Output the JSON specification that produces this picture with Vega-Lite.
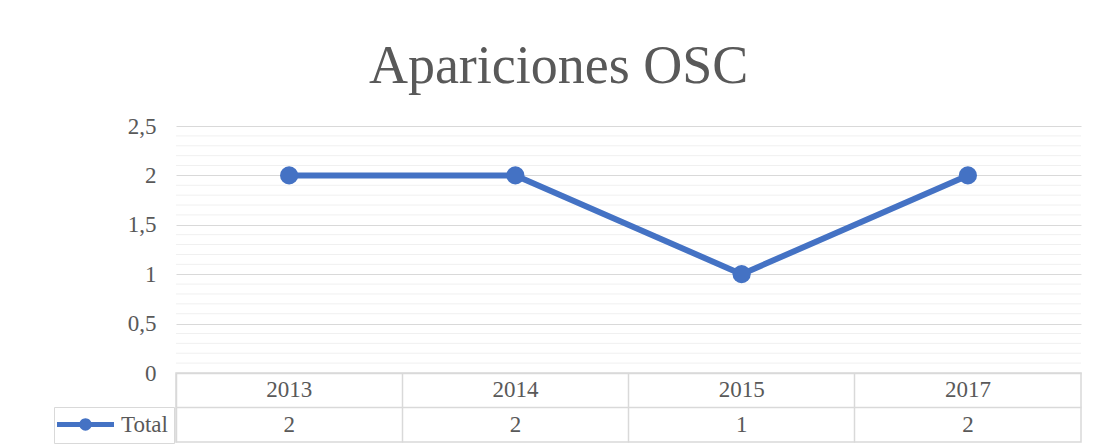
{
  "$schema": "https://vega.github.io/schema/vega-lite/v6.json",
  "padding": {"left": 53, "top": 40, "right": 14, "bottom": 6},
  "background": "white",
  "title": {"text": "Apariciones OSC", "font": "Liberation Serif", "fontSize": 54, "fontWeight": "normal", "color": "#595959", "anchor": "middle", "offset": 21, "dx": -9},
  "data": {"values": [
    {"year": "2013", "series": "Total", "value": 2},
    {"year": "2014", "series": "Total", "value": 2},
    {"year": "2015", "series": "Total", "value": 1},
    {"year": "2017", "series": "Total", "value": 2}
  ]},
  "spacing": 0,
  "bounds": "flush",
  "vconcat": [
    {
      "width": 905,
      "height": 247,
      "view": {"stroke": null},
      "layer": [
        {
          "data": {"values": [
            {"minor": 0.1}, {"minor": 0.2}, {"minor": 0.3}, {"minor": 0.4},
            {"minor": 0.6}, {"minor": 0.7}, {"minor": 0.8}, {"minor": 0.9},
            {"minor": 1.1}, {"minor": 1.2}, {"minor": 1.3}, {"minor": 1.4},
            {"minor": 1.6}, {"minor": 1.7}, {"minor": 1.8}, {"minor": 1.9},
            {"minor": 2.1}, {"minor": 2.2}, {"minor": 2.3}, {"minor": 2.4}
          ]},
          "mark": {"type": "rule", "color": "#f0f0f0", "strokeWidth": 1},
          "encoding": {
            "y": {"field": "minor", "type": "quantitative", "scale": {"domain": [0, 2.5], "nice": false},
              "axis": {"values": [0, 0.5, 1, 1.5, 2, 2.5], "format": "~g", "labelExpr": "replace(datum.label, '.', ',')", "domain": false, "ticks": false, "labelPadding": 20, "grid": true, "gridColor": "#d9d9d9", "gridWidth": 1, "title": null, "labelFont": "Liberation Serif", "labelFontSize": 23, "labelColor": "#595959"}}
          }
        },
        {
          "mark": {"type": "line", "strokeWidth": 6},
          "encoding": {
            "x": {"field": "year", "type": "ordinal", "axis": null},
            "y": {"field": "value", "type": "quantitative", "scale": {"domain": [0, 2.5], "nice": false},
              "axis": {"values": [0, 0.5, 1, 1.5, 2, 2.5], "format": "~g", "labelExpr": "replace(datum.label, '.', ',')", "domain": false, "ticks": false, "labelPadding": 20, "grid": true, "gridColor": "#d9d9d9", "gridWidth": 1, "title": null, "labelFont": "Liberation Serif", "labelFontSize": 23, "labelColor": "#595959"}},
            "color": {"field": "series", "type": "nominal", "scale": {"range": ["#4472c4"]},
              "legend": {"title": null, "orient": "none", "legendX": -122, "legendY": 281, "direction": "vertical",
                "symbolType": "M-3,-0.27L3,-0.27L3,0.27L-3,0.27Z M-0.65,0A0.65,0.65 0 1,1 0.65,0A0.65,0.65 0 1,1 -0.65,0Z",
                "symbolSize": 361, "symbolFillColor": "#4472c4", "symbolStrokeColor": "#4472c4", "symbolStrokeWidth": 0,
                "symbolOffset": 14, "labelOffset": 24, "labelFont": "Liberation Serif", "labelFontSize": 23, "labelColor": "#595959",
                "padding": 6, "strokeColor": "#d9d9d9",
                "encode": {"symbols": {"update": {"fill": {"value": "#4472c4"}, "stroke": {"value": "#4472c4"}, "strokeWidth": {"value": 0}, "opacity": {"value": 1}}}}}}
          }
        },
        {
          "mark": {"type": "point", "filled": true, "size": 330, "opacity": 1},
          "encoding": {
            "x": {"field": "year", "type": "ordinal", "axis": null},
            "y": {"field": "value", "type": "quantitative", "scale": {"domain": [0, 2.5], "nice": false},
              "axis": {"values": [0, 0.5, 1, 1.5, 2, 2.5], "format": "~g", "labelExpr": "replace(datum.label, '.', ',')", "domain": false, "ticks": false, "labelPadding": 20, "grid": true, "gridColor": "#d9d9d9", "gridWidth": 1, "title": null, "labelFont": "Liberation Serif", "labelFontSize": 23, "labelColor": "#595959"}},
            "color": {"field": "series", "type": "nominal", "scale": {"range": ["#4472c4"]}}
          }
        }
      ]
    },
    {
      "width": 905,
      "height": 69,
      "view": {"stroke": "#d9d9d9", "strokeWidth": 1.5},
      "layer": [
        {
          "mark": {"type": "text", "font": "Liberation Serif", "fontSize": 23, "color": "#595959"},
          "encoding": {
            "x": {"field": "year", "type": "ordinal", "scale": {"type": "band", "paddingInner": 0, "paddingOuter": 0},
              "axis": {"orient": "top", "labels": false, "ticks": false, "domain": false, "grid": true, "bandPosition": 0, "gridColor": "#d9d9d9", "gridWidth": 1.5, "title": null}},
            "y": {"datum": "h", "type": "nominal", "scale": {"type": "band", "domain": ["h", "Total"], "paddingInner": 0, "paddingOuter": 0},
              "axis": {"labels": false, "ticks": false, "domain": false, "grid": true, "bandPosition": 0, "gridColor": "#d9d9d9", "gridWidth": 1.5, "title": null}},
            "text": {"field": "year"}
          }
        },
        {
          "mark": {"type": "text", "font": "Liberation Serif", "fontSize": 23, "color": "#595959"},
          "encoding": {
            "x": {"field": "year", "type": "ordinal", "scale": {"type": "band", "paddingInner": 0, "paddingOuter": 0},
              "axis": {"orient": "top", "labels": false, "ticks": false, "domain": false, "grid": true, "bandPosition": 0, "gridColor": "#d9d9d9", "gridWidth": 1.5, "title": null}},
            "y": {"datum": "Total", "type": "nominal", "scale": {"type": "band", "domain": ["h", "Total"], "paddingInner": 0, "paddingOuter": 0},
              "axis": {"labels": false, "ticks": false, "domain": false, "grid": true, "bandPosition": 0, "gridColor": "#d9d9d9", "gridWidth": 1.5, "title": null}},
            "text": {"field": "value"}
          }
        }
      ]
    }
  ]
}
